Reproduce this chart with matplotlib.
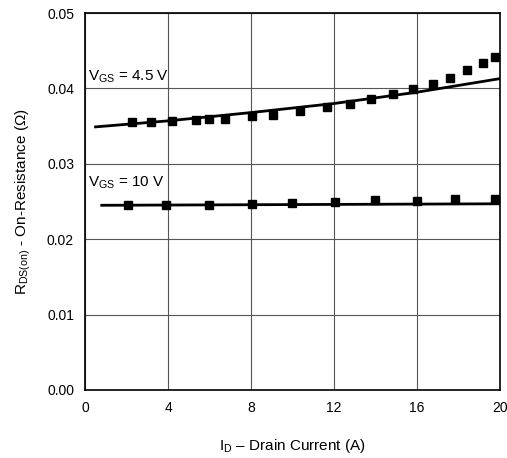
import numpy as np
import matplotlib.pyplot as plt
from matplotlib.ticker import FormatStrFormatter

plt.rcParams['font.family'] = ['Liberation Sans', 'DejaVu Sans']
plt.rcParams['mathtext.fontset'] = 'custom'
plt.rcParams['mathtext.rm'] = 'Liberation Sans'
plt.rcParams['mathtext.it'] = 'Liberation Sans'

# VGS = 4.5 V measured points
id_45 = [2.25, 3.17, 4.18, 5.35, 5.99, 6.75, 8.06, 9.07, 10.36, 11.65, 12.77,
         13.78, 14.86, 15.82, 16.76, 17.59, 18.40, 19.20, 19.76]
r_45 = [0.0355, 0.0355, 0.0357, 0.0358, 0.0359, 0.0359, 0.0363, 0.0365, 0.0370,
        0.0375, 0.0380, 0.0386, 0.0392, 0.0399, 0.0406, 0.0414, 0.0424, 0.0434, 0.0442]
# VGS = 4.5 V model curve
id_45_line = [0.5, 4, 8, 12, 16, 20]
r_45_line = [0.0349, 0.0357, 0.0368, 0.0380, 0.0395, 0.0413]

# VGS = 10 V measured points
id_10 = [2.06, 3.9, 5.98, 8.06, 9.98, 12.05, 13.99, 15.98, 17.82, 19.76]
r_10 = [0.0245, 0.0245, 0.0246, 0.0247, 0.0248, 0.0250, 0.0252, 0.0251, 0.0254, 0.0253]
id_10_line = [0.8, 20]
r_10_line = [0.0245, 0.0247]

fig = plt.figure(figsize=(5.07, 4.58), dpi=100)
ax = fig.add_axes([0.168, 0.1485, 0.818, 0.823])

# smooth curve through the read points
xs = np.linspace(0.5, 20, 100)
ax.plot(xs, np.interp(xs, id_45_line, r_45_line), color='black', lw=2)
ax.plot(id_10_line, r_10_line, color='black', lw=2)
ax.plot(id_45, r_45, 's', color='black', ms=6)
ax.plot(id_10, r_10, 's', color='black', ms=6)

ax.set_xlim(0, 20)
ax.set_ylim(0, 0.05)
ax.set_xticks([0, 4, 8, 12, 16, 20])
ax.set_yticks([0, 0.01, 0.02, 0.03, 0.04, 0.05])
ax.yaxis.set_major_formatter(FormatStrFormatter('%.2f'))
ax.grid(True, color='#555555', lw=0.8)
ax.tick_params(length=0, labelsize=10, pad=8)
for s in ax.spines.values():
    s.set_linewidth(1.2)

ax.text(0.15, 0.0405, r'V$_{\rm GS}$ = 4.5 V', fontsize=11, va='bottom')
ax.text(0.15, 0.0264, r'V$_{\rm GS}$ = 10 V', fontsize=11, va='bottom')

ax.set_xlabel(r'I$_{\rm D}$ – Drain Current (A)', fontsize=11, labelpad=16)
ax.set_ylabel(r'R$_{\rm DS(on)}$ - On-Resistance (Ω)', fontsize=11, labelpad=10)

fig.savefig('out.png', dpi=100)
